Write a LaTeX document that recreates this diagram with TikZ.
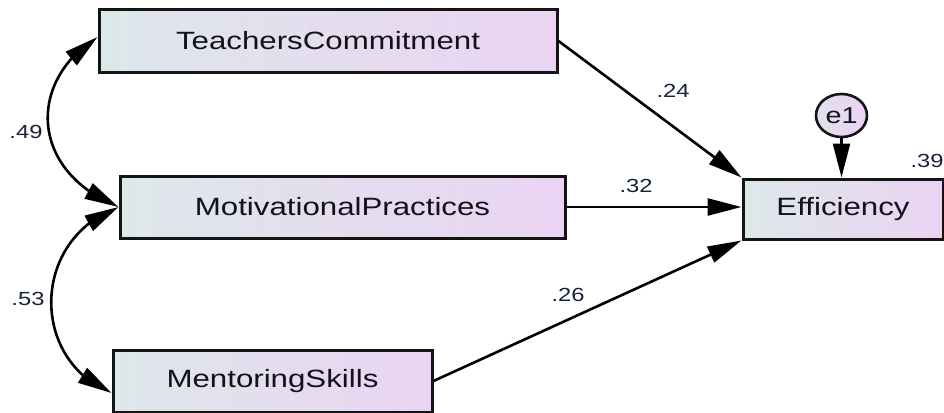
\documentclass[tikz,border=0pt]{standalone}
\usepackage{fontspec}
\setmainfont{Liberation Sans}
\newfontfamily\wfont[FakeStretch=1.25]{Liberation Sans}
\usetikzlibrary{arrows.meta,shapes.geometric,bending}
\definecolor{boxL}{HTML}{DDE8EA}
\definecolor{boxR}{HTML}{EBD3F3}
\definecolor{txt}{HTML}{121218}
\definecolor{lbl}{HTML}{18203A}
\begin{document}
\begin{tikzpicture}[x=1pt,y=-1pt,
  box/.style={draw=black!92, line width=3pt, left color=boxL, right color=boxR,
    minimum height=62pt, inner sep=0pt, text=txt,
    font=\wfont\fontsize{25}{26}\selectfont},
  errnode/.style={ellipse, draw=black!92, line width=2.6pt, left color=boxL!60!boxR, right color=boxR,
    minimum width=51pt, minimum height=43pt, inner sep=0pt, text=txt,
    font=\wfont\fontsize{23}{24}\selectfont},
  lab/.style={text=lbl, inner sep=0pt, font=\wfont\fontsize{19}{20}\selectfont},
  arr/.style={line width=2.6pt, -{Triangle[length=34pt,width=17pt]}},
  biarr/.style={line width=2.6pt, {Triangle[length=34pt,width=17pt,flex]}-{Triangle[length=34pt,width=17pt,flex]}}
]
\useasboundingbox (0,0) rectangle (944,412);

\node[box, minimum width=458pt] (tc) at (328,41) {TeachersCommitment};
\node[box, minimum width=445pt] (mp) at (342.5,207) {MotivationalPractices};
\node[box, minimum width=319pt] (ms) at (272.5,381) {MentoringSkills};
\node[box, minimum width=200pt, minimum height=60pt] (eff) at (843,209) {Efficiency};
\node[errnode] (e1) at (841.5,115.5) {e1};

\draw[arr] (tc.east) -- (eff.north west);
\draw[arr] (mp.east) -- (mp.east -| eff.west);
\draw[arr] (ms.east) -- (eff.south west);
\draw[arr] (e1.south) -- (e1.south |- eff.north);

\draw[biarr] ([yshift=4pt]tc.west) .. controls (28,80) and (28,170) .. (mp.west);
\draw[biarr] (mp.west) .. controls (30,240) and (30,360) .. ([yshift=-12pt]ms.west);

\node[lab] (l24) at (673,91) {.24};
\node[lab] (l32) at (636,186) {.32};
\node[lab] (l26) at (568,295) {.26};
\node[lab] (l39) at (927,161) {.39};
\node[lab] (l49) at (26,132) {.49};
\node[lab] (l53) at (28,299) {.53};
\end{tikzpicture}
\end{document}
